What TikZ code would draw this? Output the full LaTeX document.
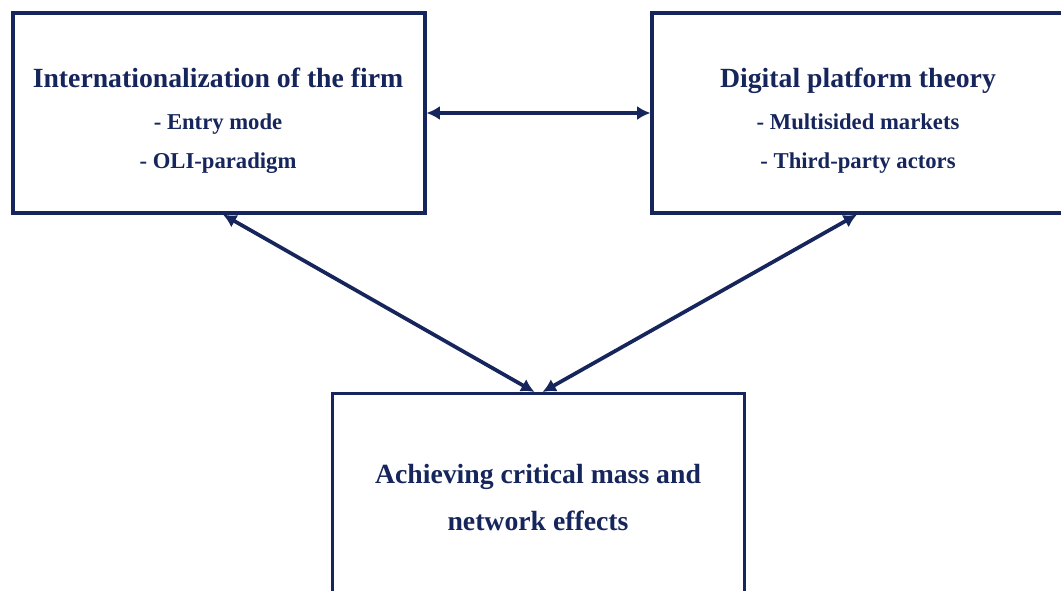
\documentclass[tikz,border=0pt]{standalone}
\usepackage{fontspec}
\setmainfont{Liberation Serif}
\usetikzlibrary{arrows.meta}
\definecolor{navy}{RGB}{22,38,92}
\begin{document}
\begin{tikzpicture}[x=0.75pt,y=-0.75pt,
  box/.style={draw=navy,line width=2.3pt,minimum width=412*0.75pt,inner sep=0pt},
  topbox/.style={box,minimum height=200*0.75pt},
  title/.style={anchor=base,text=navy,font=\bfseries\fontsize{20.8pt}{24pt}\selectfont},
  item/.style={anchor=base,text=navy,font=\bfseries\fontsize{17pt}{20pt}\selectfont},
  big/.style={anchor=base,text=navy,font=\bfseries\fontsize{20.8pt}{24pt}\selectfont},
  tip/.tip={Latex[length=10pt,width=10.5pt]},
  link/.style={draw=navy,line width=2.8pt,tip-tip}]
\clip (0,0) rectangle (1061,590);
\fill[white] (0,0) rectangle (1061,590);

% the three boxes
\node[topbox] (L) at (219,113) {};
\node[topbox] (R) at (858,113) {};
\node[box,minimum height=230*0.75pt,anchor=north] (B) at (538.5,392) {};

% box texts
\node[title] (Lt) at (218,87) {Internationalization of the firm};
\node[item] (Li1) at (218,129) {- Entry mode};
\node[item] (Li2) at (218,168) {- OLI-paradigm};
\node[title] (Rt) at (858,87) {Digital platform theory};
\node[item] (Ri1) at (858,129) {- Multisided markets};
\node[item] (Ri2) at (858,168) {- Third-party actors};
\node[big] (Bt1) at (538,483) {Achieving critical mass and};
\node[big] (Bt2) at (538,530) {network effects};

% connectors
\draw[link] (L.east) -- (R.west);
\draw[link] ([xshift=3pt]L.south) -- ([xshift=-3pt]B.north);
\draw[link] ([xshift=-0.75pt]R.south) -- ([xshift=3pt]B.north);
\end{tikzpicture}
\end{document}
